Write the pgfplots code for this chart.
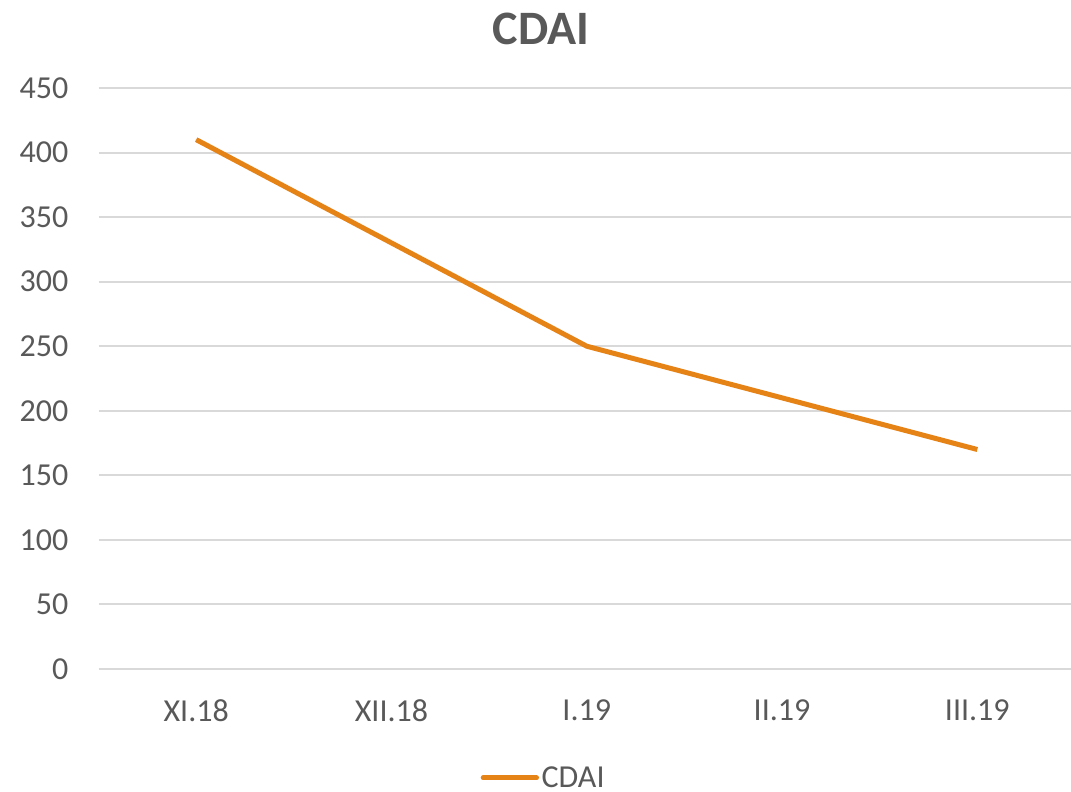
\documentclass[border=0pt]{standalone}
\usepackage{fontspec}
\setmainfont{Carlito}
\usepackage{pgfplots}
\pgfplotsset{compat=1.18}
\definecolor{cdai}{RGB}{230,131,22}
\definecolor{gridc}{RGB}{217,217,217}
\definecolor{txt}{RGB}{89,89,89}
\begin{document}
\begin{tikzpicture}
\path[use as bounding box] (0,0) rectangle (803.25pt,594pt);
\node[anchor=center, inner sep=0pt, text=txt, font=\fontsize{36}{40}\selectfont\bfseries] at (405.75pt,572.6pt) {CDAI};
\begin{axis}[
  at={(73.9pt,92.25pt)}, anchor=south west,
  scale only axis, width=729.4pt, height=435.75pt,
  xmin=-0.5, xmax=4.48, ymin=0, ymax=450,
  xtick={0,1,2,3,4},
  xticklabels={XI.18,XII.18,I.19,II.19,III.19},
  ytick={0,50,...,450},
  /pgf/number format/assume math mode=true,
  axis line style={draw=none},
  tick style={draw=none},
  ymajorgrids, grid style={gridc, line width=1.5pt},
  ticklabel style={text=txt, font=\fontsize{24}{28}\selectfont},
  yticklabel style={inner sep=0pt, anchor=east, xshift=-22.5pt},
  xticklabel style={inner sep=0pt, anchor=north, yshift=-23pt},
  legend style={at={(0.458,-0.1876)}, anchor=center, draw=none, fill=none,
    font=\fontsize{24}{28}\selectfont, text=txt, inner sep=0pt},
  legend image code/.code={\draw[#1, line cap=round] (0pt,0pt) -- (40pt,0pt);},
  legend cell align=left,
]
\addplot[cdai, line width=3.75pt, line join=round] coordinates {(0,410) (1,330) (2,250) (3,210) (4,170)};
\addlegendentry{CDAI}
\end{axis}
\end{tikzpicture}
\end{document}
